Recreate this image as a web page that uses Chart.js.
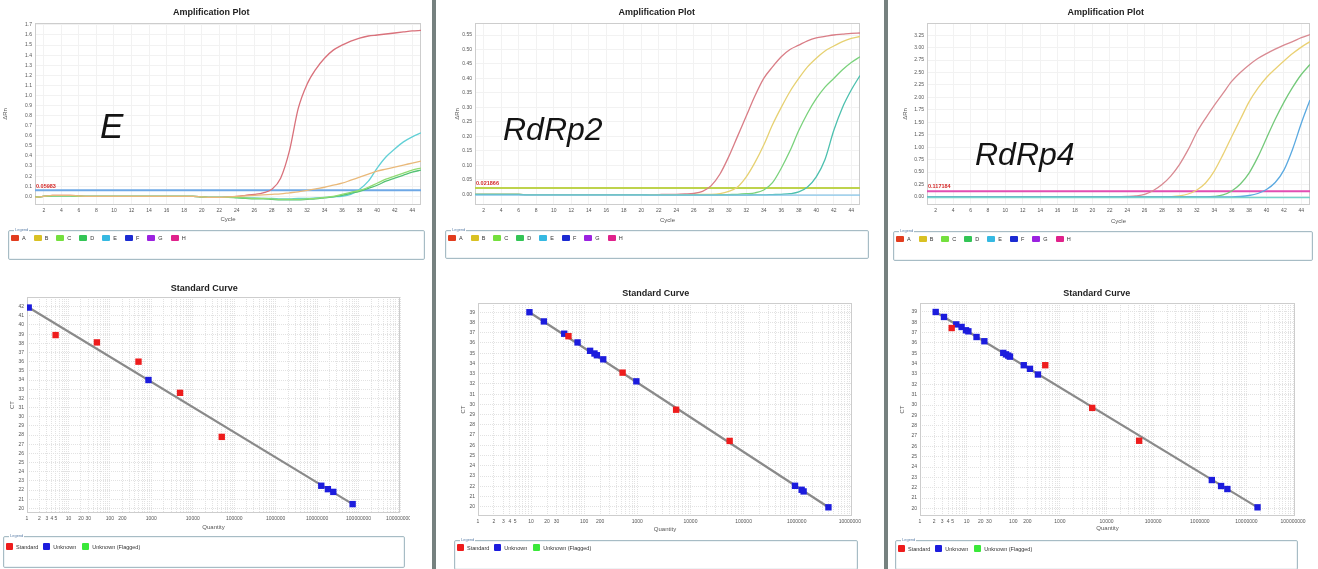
<!DOCTYPE html>
<html>
<head>
<meta charset="utf-8">
<script src="https://cdn.jsdelivr.net/npm/chart.js@4.4.1/dist/chart.umd.min.js"></script>
<style>
html, body { margin: 0; padding: 0; background: #fff; }
body { width: 1318px; height: 569px; position: relative; overflow: hidden; font-family: "Liberation Sans", Arial, sans-serif; }
.box { position: absolute; }
.divider { position: absolute; top: 0; width: 4px; height: 569px; background: #76817f; }
.gene { position: absolute; font-style: italic; color: #141414; line-height: 1; white-space: nowrap; }
.leg { position: absolute; border: 1px solid #a7bcc5; border-radius: 2px; background: #fff; box-shadow: inset 0 0 0 1px #eef3f5; }
.leg .cap { position: absolute; left: 5px; top: -3px; font-size: 4px; line-height: 4px; color: #5c7fa8; background: #fff; padding: 0 1px; }
.leg .items { position: absolute; left: 2px; display: flex; align-items: center; }
.leg .it { display: flex; align-items: center; font-size: 5.5px; color: #333; white-space: nowrap; }
.leg .sw { display: inline-block; border-radius: 1px; margin-right: 3px; }
</style>
</head>
<body>

<div class="box" style="left:0;top:0;width:430px;height:228px"><canvas id="ampE"></canvas></div>
<div class="box" style="left:437px;top:0;width:438px;height:228px"><canvas id="ampR2"></canvas></div>
<div class="box" style="left:888px;top:0;width:430px;height:228px"><canvas id="ampR4"></canvas></div>

<div class="box" style="left:0;top:280px;width:410px;height:256px"><canvas id="stdE"></canvas></div>
<div class="box" style="left:440px;top:280px;width:430px;height:258px"><canvas id="stdR2"></canvas></div>
<div class="box" style="left:885px;top:280px;width:425px;height:258px"><canvas id="stdR4"></canvas></div>

<div class="divider" style="left:432px"></div>
<div class="divider" style="left:884px"></div>

<div class="gene" style="left:100px;top:108px;font-size:35px">E</div>
<div class="gene" style="left:503px;top:113px;font-size:32px">RdRp2</div>
<div class="gene" style="left:975px;top:138px;font-size:32px">RdRp4</div>

<div id="legends"></div>

<script>
// ---- amplification plots: cycles and delta Rn per well ----
const cycles = [1,2,3,4,5,6,7,8,9,10,11,12,13,14,15,16,17,18,19,20,21,22,23,24,25,26,27,28,29,30,31,32,33,34,35,36,37,38,39,40,41,42,43,44,45];
const cycleTicks = [2,4,6,8,10,12,14,16,18,20,22,24,26,28,30,32,34,36,38,40,42,44];

// E gene
const eYTicks = [0,0.1,0.2,0.3,0.4,0.5,0.6,0.7,0.8,0.9,1.0,1.1,1.2,1.3,1.4,1.5,1.6,1.7];
const eThreshold = 0.05983;
const eA = [-0.01,0,0.01,0.01,0.01,0.005,0,0,0,0, 0,0,0,0,0,0,0,0,0,-0.005, -0.01,-0.01,-0.005,0,0.01,0.02,0.035,0.07,0.18,0.45, 0.87,1.11,1.26,1.37,1.45,1.50,1.54,1.57,1.59,1.60, 1.61,1.62,1.63,1.64,1.645];
const eB = [-0.01,0,0.01,0.01,0.01,0.005,0,0,0,0, 0,0,0,0,0,0,0,0,0,-0.005, -0.01,-0.01,-0.005,0,0.005,0.01,0.015,0.02,0.025,0.035, 0.045,0.06,0.075,0.09,0.11,0.13,0.16,0.19,0.22,0.25, 0.27,0.29,0.31,0.33,0.35];
const eC = [-0.01,0,0.005,0.005,0.005,0,0,0,0,0, 0,0,0,0,0,0,0,0,0,-0.005, -0.01,-0.01,-0.01,-0.01,-0.015,-0.02,-0.02,-0.025,-0.03,-0.03, -0.03,-0.025,-0.02,-0.01,0,0.02,0.04,0.06,0.09,0.13, 0.17,0.20,0.23,0.26,0.28];
const eD = [-0.01,0,0.005,0.005,0.005,0,0,0,0,0, 0,0,0,0,0,0,0,0,0,-0.005, -0.01,-0.01,-0.01,-0.015,-0.02,-0.025,-0.025,-0.03,-0.035,-0.035, -0.035,-0.03,-0.025,-0.015,-0.005,0.01,0.03,0.05,0.08,0.11, 0.15,0.18,0.21,0.24,0.26];
const eE = [-0.01,0,0.005,0.005,0.005,0,0,0,0,0, 0,0,0,0,0,0,0,0,0,-0.005, -0.01,-0.01,-0.01,-0.01,-0.015,-0.015,-0.02,-0.02,-0.025,-0.025, -0.02,-0.02,-0.015,-0.01,-0.005,0,0.02,0.07,0.15,0.28, 0.39,0.47,0.54,0.59,0.63];

// RdRp2
const r2YTicks = [0,0.05,0.10,0.15,0.20,0.25,0.30,0.35,0.40,0.45,0.50,0.55];
const r2Threshold = 0.021866;
const r2A = [0,0,0,0,0,0,-0.002,-0.002,-0.002,-0.002, -0.002,-0.002,-0.002,-0.002,-0.002,-0.002,-0.002,-0.002,-0.002,-0.002, -0.002,-0.001,0,0,0.001,0.003,0.01,0.03,0.07,0.13, 0.20,0.27,0.34,0.40,0.44,0.475,0.50,0.515,0.53,0.54, 0.545,0.55,0.553,0.556,0.557];
const r2B = [0,0,0,0,0,0,-0.002,-0.002,-0.002,-0.002, -0.002,-0.002,-0.002,-0.002,-0.002,-0.002,-0.002,-0.002,-0.002,-0.002, -0.002,-0.002,-0.002,-0.002,-0.002,-0.001,0,0,0.002,0.01, 0.025,0.06,0.11,0.17,0.24,0.30,0.355,0.40,0.44,0.47, 0.495,0.512,0.527,0.538,0.545];
const r2C = [0,0,0,0,0,0,-0.002,-0.002,-0.002,-0.002, -0.002,-0.002,-0.002,-0.002,-0.002,-0.002,-0.002,-0.002,-0.002,-0.002, -0.003,-0.003,-0.003,-0.003,-0.003,-0.003,-0.003,-0.003,-0.002,-0.001, 0,0.002,0.005,0.015,0.04,0.09,0.15,0.22,0.28,0.33, 0.37,0.40,0.43,0.455,0.475];
const r2E = [0,0,0,0,0,0,-0.002,-0.002,-0.002,-0.002, -0.002,-0.002,-0.002,-0.002,-0.002,-0.002,-0.002,-0.002,-0.002,-0.002, -0.003,-0.003,-0.003,-0.003,-0.003,-0.003,-0.003,-0.003,-0.003,-0.003, -0.003,-0.003,-0.002,-0.002,-0.001,0,0.002,0.008,0.025,0.06, 0.12,0.22,0.30,0.36,0.41];
const r2F = [-0.003,-0.003,-0.003,-0.003,-0.003,-0.003,-0.003,-0.003,-0.003,-0.003, -0.003,-0.003,-0.003,-0.003,-0.003,-0.003,-0.003,-0.003,-0.003,-0.003, -0.003,-0.003,-0.003,-0.003,-0.003,-0.003,-0.003,-0.003,-0.003,-0.003, -0.003,-0.003,-0.003,-0.003,-0.003,-0.003,-0.003,-0.003,-0.003,-0.003, -0.003,-0.003,-0.003,-0.003,-0.003];

// RdRp4
const r4YTicks = [0,0.25,0.50,0.75,1.00,1.25,1.50,1.75,2.00,2.25,2.50,2.75,3.00,3.25];
const r4Threshold = 0.117184;
const r4A = [0,0,0,0,0,0,0,0,0,0, 0,0,0,0,0,0,0,0,0,0, 0,0,0.005,0.01,0.02,0.05,0.13,0.25,0.42,0.65, 0.95,1.30,1.58,1.84,2.08,2.32,2.50,2.65,2.78,2.88, 2.97,3.05,3.12,3.20,3.26];
const r4B = [0,0,0,0,0,0,0,0,0,0, 0,0,0,0,0,0,0,0,0,0, 0,0,0,0,0,0,0,0,0.005,0.02, 0.06,0.14,0.28,0.52,0.85,1.21,1.56,1.91,2.18,2.40, 2.57,2.73,2.88,3.01,3.12];
const r4C = [0,0,0,0,0,0,0,0,0,0, 0,0,0,0,0,0,0,0,0,0, 0,0,0,0,0,0,0,0,0,0, 0,0,0,0.01,0.04,0.12,0.26,0.48,0.80,1.18, 1.56,1.90,2.20,2.46,2.66];
const r4E = [0,0,0,0,0,0,0,0,0,0, 0,0,0,0,0,0,0,0,0,0, 0,0,0,0,0,0,0,0,0,0, 0,0,0,0,0,0,0.01,0.03,0.07,0.15, 0.29,0.54,0.96,1.48,1.95];
const r4F = [-0.01,-0.01,-0.01,-0.01,-0.01,-0.01,-0.01,-0.01,-0.01,-0.01, -0.01,-0.01,-0.01,-0.01,-0.01,-0.01,-0.01,-0.01,-0.01,-0.01, -0.01,-0.01,-0.01,-0.01,-0.01,-0.01,-0.01,-0.01,-0.01,-0.01, -0.01,-0.01,-0.01,-0.01,-0.01,-0.01,-0.01,-0.01,-0.01,-0.01, -0.01,-0.01,-0.01,-0.01,-0.01];

// ---- standard curves: quantity vs CT ----
const qtyLabels = [1,2,3,4,5,10,20,30,100,200,1000,10000,100000,1000000,10000000,100000000,1000000000];

const eStdQty = [4.9, 48.6, 490, 4930, 50000];
const eStdCt  = [38.9, 38.1, 36.0, 32.6, 27.8];
const eUnkQty = [1.1, 853, 12600000, 18200000, 24600000, 72000000];
const eUnkCt  = [41.9, 34.0, 22.47, 22.1, 21.8, 20.47];
const eFitQty = [1.1, 72000000];
const eFitCt  = [41.9, 20.47];
const eCtTicks = [20,21,22,23,24,25,26,27,28,29,30,31,32,33,34,35,36,37,38,39,40,41,42];

const r2StdQty = [50.5, 528, 5370, 54700];
const r2StdCt  = [36.66, 33.1, 29.48, 26.43];
const r2UnkQty = [9.3, 17.4, 42, 74.8, 129, 156, 173, 228, 958, 930000, 1240000, 1350000, 3960000];
const r2UnkCt  = [39.0, 38.1, 36.9, 36.05, 35.23, 34.97, 34.8, 34.4, 32.25, 22.05, 21.66, 21.5, 19.95];
const r2FitQty = [9.3, 3960000];
const r2FitCt  = [39.0, 19.95];
const r2CtTicks = [20,21,22,23,24,25,26,27,28,29,30,31,32,33,34,35,36,37,38,39];

const r4StdQty = [4.78, 485, 4930, 50000];
const r4StdCt  = [37.45, 33.85, 29.72, 26.54];
const r4UnkQty = [2.17, 3.27, 6.0, 7.8, 9.7, 10.9, 16.3, 24.0, 61, 70, 78, 85, 168, 228, 338, 1810000, 2860000, 3900000, 17300000];
const r4UnkCt  = [39.0, 38.52, 37.8, 37.55, 37.23, 37.13, 36.58, 36.17, 35.04, 34.9, 34.78, 34.68, 33.85, 33.5, 32.95, 22.74, 22.16, 21.87, 20.1];
const r4FitQty = [2.17, 17300000];
const r4FitCt  = [39.0, 20.1];
const r4CtTicks = [20,21,22,23,24,25,26,27,28,29,30,31,32,33,34,35,36,37,38,39];

const wellNames = ['A','B','C','D','E','F','G','H'];
const wellColors = ['#e23c1e','#d9c123','#74e03e','#33c556','#35b9e2','#1b2bd2','#9b22e0','#e0228b'];
const stdNames = ['Standard','Unknown','Unknown (Flagged)'];
const stdColors = ['#ee1c1c','#1c1cdd','#3ae83a'];

const FONT = '"Liberation Sans", Arial, sans-serif';
const TICK = '#555';

// works out paddings so the plot area lands where the reference has it
function frame(c, p, titleY, xTitleY, yTitleX) {
  const padLeft = yTitleX - c.x - 3.6;
  const tTop = titleY - c.y - 5.4;
  return {
    padding: { left: padLeft, right: c.x + c.w - p.r, top: 0, bottom: c.y + c.h - xTitleY - 3.6 },
    titlePad: { top: tTop, bottom: p.t - c.y - 10.8 - tTop },
    yW: p.l - c.x - padLeft,
    xH: xTitleY + 3.6 - p.b
  };
}

const frameBox = {
  id: 'frameBox',
  beforeDatasetsDraw(chart) {
    const a = chart.chartArea, ctx = chart.ctx;
    ctx.save();
    ctx.strokeStyle = '#cdcdcd';
    ctx.lineWidth = 1;
    ctx.strokeRect(a.left + 0.5, a.top + 0.5, a.right - a.left - 1, a.bottom - a.top - 1);
    ctx.restore();
  }
};

const thresholdLine = {
  id: 'threshold',
  beforeDatasetsDraw(chart, args, opts) {
    const a = chart.chartArea, ctx = chart.ctx;
    const y = chart.scales.y.getPixelForValue(opts.value);
    ctx.save();
    ctx.strokeStyle = opts.color;
    ctx.lineWidth = 2;
    ctx.beginPath();
    ctx.moveTo(a.left, y);
    ctx.lineTo(a.right, y);
    ctx.stroke();
    ctx.restore();
  },
  afterDatasetsDraw(chart, args, opts) {
    const a = chart.chartArea, ctx = chart.ctx;
    const y = chart.scales.y.getPixelForValue(opts.value);
    ctx.save();
    ctx.font = 'bold 5.5px ' + FONT;
    ctx.fillStyle = '#d42a2a';
    ctx.textBaseline = 'bottom';
    ctx.fillText(String(opts.value), a.left + 1, y - 1.5);
    ctx.restore();
  }
};

function ampChart(id, f, yMin, yMax, yTicks, dec, series, threshold, thColor) {
  new Chart(document.getElementById(id), {
    type: 'line',
    data: {
      datasets: series.map(s => ({
        data: cycles.map((c, i) => ({ x: c, y: s.values[i] })),
        borderColor: s.color,
        borderWidth: 1.3,
        pointRadius: 0,
        cubicInterpolationMode: 'monotone',
        fill: false
      }))
    },
    options: {
      responsive: true,
      maintainAspectRatio: false,
      animation: false,
      events: [],
      layout: { padding: f.padding },
      plugins: {
        legend: { display: false },
        tooltip: { enabled: false },
        title: { display: true, text: 'Amplification Plot', color: '#222', font: { family: FONT, size: 9, weight: 'bold' }, padding: f.titlePad },
        threshold: { value: threshold, color: thColor }
      },
      scales: {
        x: {
          type: 'linear', min: 1, max: 45,
          afterBuildTicks: s => { s.ticks = cycleTicks.map(v => ({ value: v })); },
          afterFit: s => { s.height = f.xH; s.paddingLeft = 0; s.paddingRight = 0; },
          ticks: { autoSkip: false, maxRotation: 0, padding: 3, color: TICK, font: { family: FONT, size: 5 } },
          grid: { color: '#f2f2f2', drawTicks: false },
          border: { display: false },
          title: { display: true, text: 'Cycle', color: TICK, font: { family: FONT, size: 6 }, padding: 0 }
        },
        y: {
          min: yMin, max: yMax,
          afterBuildTicks: s => { s.ticks = yTicks.map(v => ({ value: v })); },
          afterFit: s => { s.width = f.yW; s.paddingTop = 0; s.paddingBottom = 0; },
          ticks: { padding: 3, color: TICK, font: { family: FONT, size: 5 }, callback: v => v.toFixed(dec) },
          grid: { color: '#f2f2f2', drawTicks: false },
          border: { display: false },
          title: { display: true, text: 'ΔRn', color: TICK, font: { family: FONT, size: 6 }, padding: 0 }
        }
      }
    },
    plugins: [frameBox, thresholdLine]
  });
}

function zip(xs, ys) { return xs.map((x, i) => ({ x: x, y: ys[i] })); }

function stdChart(id, f, xMax, yMin, yMax, yTicks, stdQ, stdC, unkQ, unkC, fitQ, fitC) {
  const grid = [];
  for (let d = 1; d <= xMax; d *= 10) {
    for (let m = 1; m <= 9; m++) { if (m * d <= xMax) grid.push(m * d); }
  }
  new Chart(document.getElementById(id), {
    type: 'scatter',
    data: {
      datasets: [
        { data: zip(stdQ, stdC), pointStyle: 'rect', pointRadius: 4.5, backgroundColor: stdColors[0], borderWidth: 0, order: 1 },
        { data: zip(unkQ, unkC), pointStyle: 'rect', pointRadius: 4.5, backgroundColor: stdColors[1], borderWidth: 0, order: 1 },
        { data: zip(fitQ, fitC), showLine: true, borderColor: '#8a8a8a', borderWidth: 2.2, pointRadius: 0, order: 2 }
      ]
    },
    options: {
      responsive: true,
      maintainAspectRatio: false,
      animation: false,
      events: [],
      layout: { padding: f.padding },
      plugins: {
        legend: { display: false },
        tooltip: { enabled: false },
        title: { display: true, text: 'Standard Curve', color: '#222', font: { family: FONT, size: 9, weight: 'bold' }, padding: f.titlePad }
      },
      scales: {
        x: {
          type: 'logarithmic', min: 1, max: xMax,
          afterBuildTicks: s => { s.ticks = grid.map(v => ({ value: v })); },
          afterFit: s => { s.height = f.xH; s.paddingLeft = 0; s.paddingRight = 0; },
          ticks: { autoSkip: false, maxRotation: 0, padding: 3, color: TICK, font: { family: FONT, size: 5 },
                   callback: v => qtyLabels.includes(v) ? String(v) : '' },
          grid: { color: '#e2e2e2', drawTicks: false },
          border: { display: false, dash: [1, 1] },
          title: { display: true, text: 'Quantity', color: TICK, font: { family: FONT, size: 6 }, padding: 0 }
        },
        y: {
          min: yMin, max: yMax,
          afterBuildTicks: s => { s.ticks = yTicks.map(v => ({ value: v })); },
          afterFit: s => { s.width = f.yW; s.paddingTop = 0; s.paddingBottom = 0; },
          ticks: { padding: 3, color: TICK, font: { family: FONT, size: 5 } },
          grid: { color: '#e2e2e2', drawTicks: false },
          border: { display: false, dash: [1, 1] },
          title: { display: true, text: 'CT', color: TICK, font: { family: FONT, size: 6 }, padding: 0 }
        }
      }
    },
    plugins: [frameBox]
  });
}

// amplification plots
ampChart('ampE', frame({ x: 0, y: 0, w: 430, h: 228 }, { l: 35, t: 23, r: 421, b: 205 }, 13, 219, 5),
  -0.086, 1.719, eYTicks, 1,
  [{ values: eB, color: '#e9b97a' }, { values: eC, color: '#8fdc72' }, { values: eD, color: '#54c274' },
   { values: eE, color: '#62d0d6' }, { values: eA, color: '#d9717b' }],
  eThreshold, '#6ea8e6');

ampChart('ampR2', frame({ x: 437, y: 0, w: 438, h: 228 }, { l: 475, t: 23, r: 860, b: 205 }, 13, 220, 457),
  -0.037, 0.5915, r2YTicks, 2,
  [{ values: r2F, color: '#86c4e8' }, { values: r2E, color: '#4cc0ae' }, { values: r2C, color: '#7ad27c' },
   { values: r2B, color: '#e6d172' }, { values: r2A, color: '#d97d86' }],
  r2Threshold, '#bed34c');

ampChart('ampR4', frame({ x: 888, y: 0, w: 430, h: 228 }, { l: 927, t: 23, r: 1310, b: 205 }, 13, 221, 905),
  -0.161, 3.494, r4YTicks, 2,
  [{ values: r4F, color: '#76d2ca' }, { values: r4E, color: '#5aa9e0' }, { values: r4C, color: '#74c97a' },
   { values: r4B, color: '#ead174' }, { values: r4A, color: '#d98a92' }],
  r4Threshold, '#e24eb2');

// standard curves
stdChart('stdE', frame({ x: 0, y: 280, w: 410, h: 256 }, { l: 27, t: 297, r: 400, b: 513 }, 289, 527, 12),
  1000000000, 19.5, 43.05, eCtTicks, eStdQty, eStdCt, eUnkQty, eUnkCt, eFitQty, eFitCt);
stdChart('stdR2', frame({ x: 440, y: 280, w: 430, h: 258 }, { l: 478, t: 303, r: 852, b: 516 }, 294, 529, 463),
  11000000, 19.1, 39.9, r2CtTicks, r2StdQty, r2StdCt, r2UnkQty, r2UnkCt, r2FitQty, r2FitCt);
stdChart('stdR4', frame({ x: 885, y: 280, w: 425, h: 258 }, { l: 920, t: 303, r: 1295, b: 516 }, 294, 528, 902),
  110000000, 19.26, 39.87, r4CtTicks, r4StdQty, r4StdCt, r4UnkQty, r4UnkCt, r4FitQty, r4FitCt);

// legend boxes
function legendBox(x, y, w, h, names, colors, swW, swH, itemGaps, top) {
  const box = document.createElement('div');
  box.className = 'leg';
  box.style.cssText = `left:${x}px;top:${y}px;width:${w}px;height:${h}px`;
  box.innerHTML = '<span class="cap">Legend</span>';
  const items = document.createElement('div');
  items.className = 'items';
  items.style.top = top + 'px';
  names.forEach((n, i) => {
    const it = document.createElement('span');
    it.className = 'it';
    it.style.marginRight = itemGaps[i] + 'px';
    it.innerHTML = `<span class="sw" style="width:${swW}px;height:${swH}px;background:${colors[i]}"></span>${n}`;
    items.appendChild(it);
  });
  box.appendChild(items);
  document.getElementById('legends').appendChild(box);
}

const ampGaps = [8, 8, 8, 8, 8, 8, 8, 8];
legendBox(8, 230, 415, 28, wellNames, wellColors, 8, 6, ampGaps, 4);
legendBox(445, 230, 422, 27, wellNames, wellColors, 8, 6, ampGaps, 4);
legendBox(893, 231, 418, 28, wellNames, wellColors, 8, 6, ampGaps, 4);

const stdGaps = [5, 6, 0];
legendBox(3, 536, 400, 30, stdNames, stdColors, 7, 7, stdGaps, 6);
legendBox(454, 540, 402, 28, stdNames, stdColors, 7, 7, stdGaps, 3);
legendBox(895, 540, 401, 28, stdNames, stdColors, 7, 7, stdGaps, 4);
</script>
</body>
</html>
